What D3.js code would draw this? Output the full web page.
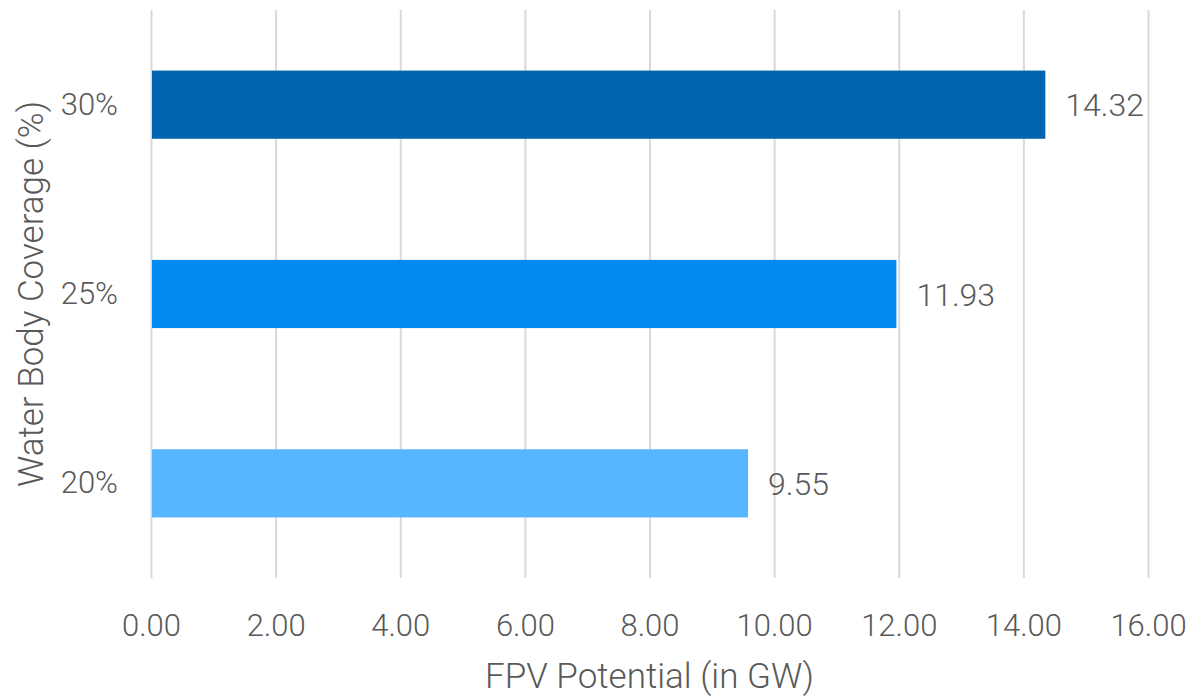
<!DOCTYPE html>
<html lang="en">
	<head>
		<meta charset="utf-8">
		<title>FPV Potential</title>
		<script type="text/javascript" src="https://cdnjs.cloudflare.com/ajax/libs/d3/7.8.5/d3.min.js"></script>
		<style type="text/css">
			body { margin: 0; background: #fff; }
			text { font-family: Roboto, sans-serif; font-weight: 300; fill: #595959; }
		</style>
	</head>
	<body>
		<script type="text/javascript">

			//Data
			var categories = ['30%', '25%', '20%'];
			var values = [14.32, 11.93, 9.55];
			var colors = ['#0064B1', '#0089F0', '#56B6FF'];
			var xTicks = [0, 2, 4, 6, 8, 10, 12, 14, 16];

			//Width and height
			var w = 1196;
			var h = 698;
			var margin = {top: 10, right: 48, bottom: 120, left: 151};

			var xScale = d3.scaleLinear()
							.domain([0, 16])
							.range([margin.left, w - margin.right]);

			var yScale = d3.scaleBand()
							.domain(categories)
							.range([margin.top, h - margin.bottom])
							.paddingInner(0.64)
							.paddingOuter(0.32);

			var svg = d3.select('body')
							.append('svg')
							.attr('width', w)
							.attr('height', h);

			//Gridlines + tick labels
			var xAxis = g => g
							.attr('transform', `translate(0,${h - margin.bottom})`)
							.call(d3.axisBottom(xScale)
								.tickValues(xTicks)
								.tickFormat(d3.format('.2f'))
								.tickSize(-(h - margin.top - margin.bottom))
								.tickPadding(36))
							.call(g => g.select('.domain').remove())
							.call(g => g.selectAll('.tick line')
								.attr('stroke', '#d9d9d9')
								.attr('stroke-width', 2))
							.call(g => g.selectAll('.tick text')
								.attr('font-size', 31)
								.attr('font-family', 'Roboto, sans-serif')
								.attr('fill', '#595959'));

			var yAxis = g => g
							.attr('transform', `translate(${margin.left},0)`)
							.call(d3.axisLeft(yScale).tickSize(0).tickPadding(33))
							.call(g => g.select('.domain').remove())
							.call(g => g.selectAll('.tick text')
								.attr('font-size', 31)
								.attr('font-family', 'Roboto, sans-serif')
								.attr('fill', '#595959'));

			svg.append('g').call(xAxis);
			svg.append('g').call(yAxis);

			//Bars
			svg.append('g')
				.selectAll('rect')
					.data(values)
					.enter()
					.append('rect')
					.attr('x', xScale(0) + 1)
					.attr('y', (d, i) => yScale(categories[i]))
					.attr('width', d => xScale(d) - xScale(0) + 1)
					.attr('height', yScale.bandwidth())
					.attr('fill', (d, i) => colors[i]);

			//Value labels
			svg.append('g')
				.selectAll('text')
					.data(values)
					.enter()
					.append('text')
					.text(d => d.toFixed(2))
					.attr('x', d => xScale(d) + 22)
					.attr('y', (d, i) => yScale(categories[i]) + yScale.bandwidth() / 2)
					.attr('dy', '0.36em')
					.attr('font-size', 32);

			//Axis titles
			svg.append('text')
				.text('FPV Potential (in GW)')
				.attr('x', (margin.left + w - margin.right) / 2)
				.attr('y', 688)
				.attr('text-anchor', 'middle')
				.attr('font-size', 35);

			svg.append('text')
				.text('Water Body Coverage (%)')
				.attr('transform', `translate(43,${(margin.top + h - margin.bottom) / 2}) rotate(-90)`)
				.attr('text-anchor', 'middle')
				.attr('font-size', 35);
		</script>
	</body>
</html>
